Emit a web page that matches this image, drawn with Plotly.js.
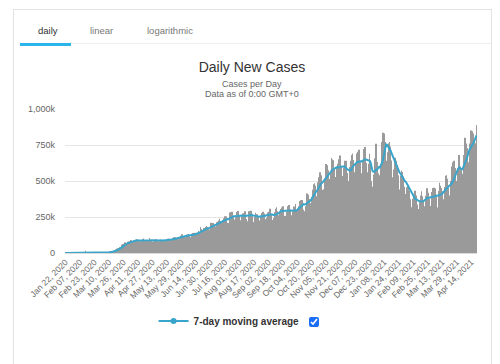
<!DOCTYPE html>
<html><head><meta charset="utf-8">
<script src="https://cdn.plot.ly/plotly-3.0.1.min.js"></script>
<style>
html,body{margin:0;padding:0;background:#fff;width:500px;height:364px;overflow:hidden;font-family:"Liberation Sans",Arial,sans-serif;}
#box{position:absolute;left:13px;top:9px;width:479px;height:420px;border:1px solid #e2e2e2;box-sizing:border-box;}
.tab{position:absolute;top:25px;font-size:9.5px;line-height:11px;color:#777;}
#chart{position:absolute;left:0;top:0;width:500px;height:364px;}
#cb{position:absolute;left:309px;top:317px;width:10px;height:10px;margin:0;accent-color:#1a6ef5;}
</style></head><body>
<div id="box"></div>
<div style="position:absolute;left:20px;top:43px;width:471px;height:1px;background:#eeeeee"></div>
<div class="tab" style="left:38px;color:#333">daily</div>
<div class="tab" style="left:90px">linear</div>
<div class="tab" style="left:147px">logarithmic</div>
<div style="position:absolute;left:20px;top:43px;width:51px;height:2.5px;background:#2bb5ea"></div>
<div id="chart"></div>
<input type="checkbox" id="cb" checked>
<script>
// Daily new cases, in thousands, by month (first month starts Jan 22, 2020)
const jan2020 = [0.1, 0.1, 0.3, 0.7, 0.8, 1.3, 1.5, 1.8, 2.0, 2.1];
const feb2020 = [2.6, 2.8, 3.2, 3.9, 3.7, 3.2, 3.4, 2.7, 3.0, 2.6, 2.0, 2.0, 15.2, 5.1, 2.6, 2.1, 2.0, 1.9, 1.8, 0.6, 0.9, 1.0, 0.6, 0.9, 1.0, 0.9, 1.2, 1.4, 1.8];
const mar2020 = [1.9, 2.2, 2.5, 2.3, 2.8, 3.9, 4.0, 3.6, 4.4, 4.8, 7.5, 9.5, 11.5, 10.9, 14.0, 15.6, 19.9, 26.5, 29.6, 32.9, 33.1, 40.5, 41.6, 56.9, 62.4, 64.9, 73.5, 72.1, 66.6, 64.3, 77.3];
const apr2020 = [80, 82, 90, 88, 80, 80, 86, 90, 92, 95, 86, 80, 78, 83, 90, 95, 100, 88, 82, 80, 84, 86, 90, 105, 90, 84, 76, 80, 82, 88];
const may2020 = [95.1, 84.0, 80.5, 79.8, 82.0, 93.0, 90.5, 92.5, 89.3, 82.4, 76.2, 87.3, 92.4, 98.1, 99.6, 97.2, 87.8, 89.9, 96.3, 102.6, 108.8, 109.1, 103.0, 101.2, 90.9, 95.5, 109.0, 119.8, 125.4, 130.2, 115.0];
const jun2020 = [110.9, 113.7, 123.5, 126.5, 128.9, 131.4, 117.4, 109.7, 120.1, 134.4, 139.0, 136.6, 140.6, 133.2, 123.0, 141.0, 152.7, 140.8, 180.5, 166.5, 160.4, 140.2, 174.1, 170.9, 181.0, 186.7, 180.2, 166.6, 163.4, 178.1];
const jul2020 = [210.4, 207.3, 209.2, 198.9, 184.8, 175.5, 213.3, 216.3, 226.0, 237.5, 222.7, 197.9, 213.6, 229.6, 241.3, 255.6, 253.4, 243.5, 209.9, 207.9, 240.6, 281.7, 283.6, 286.4, 257.7, 232.5, 210.0, 247.8, 284.4, 291.4, 291.8];
const aug2020 = [261.9, 226.6, 213.1, 254.8, 275.0, 276.9, 289.6, 259.8, 236.6, 220.9, 258.6, 290.6, 291.7, 293.7, 259.3, 214.9, 211.2, 254.1, 278.7, 268.6, 268.4, 254.7, 226.1, 218.6, 258.2, 278.5, 285.9, 274.8, 263.1, 234.6, 245.4];
const sep2020 = [263.4, 281.6, 286.0, 306.6, 265.9, 228.5, 224.0, 243.3, 282.3, 307.3, 318.2, 289.2, 255.9, 261.9, 290.1, 306.4, 316.5, 323.8, 297.0, 256.8, 259.3, 287.0, 301.5, 324.5, 333.0, 302.8, 261.5, 243.1, 287.7, 322.3];
const oct2020 = [323.3, 340.7, 300.8, 262.0, 300.9, 323.8, 361.6, 366.5, 367.9, 352.2, 300.6, 289.2, 325.5, 379.7, 412.4, 405.1, 375.4, 320.2, 344.8, 390.9, 439.1, 476.9, 484.7, 467.2, 394.2, 378.5, 491.7, 526.1, 560.1, 539.8, 497.2];
const nov2020 = [437.4, 441.9, 519.6, 574.2, 618.4, 610.0, 575.5, 482.8, 514.5, 550.0, 660.0, 650.0, 643.5, 586.0, 528.1, 516.5, 596.0, 620.3, 650.8, 677.6, 600.5, 520.6, 535.2, 594.6, 640.1, 590.0, 640.3, 555.6, 500.6, 488.1];
const dec2020 = [597.4, 640.1, 680.1, 690.9, 645.3, 536.6, 560.6, 611.7, 690.8, 703.1, 717.0, 630.0, 546.0, 553.5, 643.2, 722.5, 720.0, 736.0, 625.0, 531.9, 560.0, 620.0, 690.0, 640.0, 500.0, 460.0, 490.0, 545.3, 656.1, 758.0, 632.2];
const jan2021 = [552.5, 540.5, 474.3, 620.0, 770.0, 810.0, 835.0, 830.0, 770.0, 640.0, 610.0, 700.0, 760.0, 770.0, 740.0, 642.1, 525.3, 498.0, 580.5, 661.5, 640.8, 610.4, 540.3, 432.3, 441.8, 536.5, 572.5, 563.0, 530.6, 460.4, 384.1];
const feb2021 = [410.5, 456.5, 471.4, 457.8, 432.4, 373.6, 311.4, 317.0, 375.9, 407.0, 431.7, 398.5, 337.6, 279.6, 304.7, 351.6, 398.6, 428.4, 394.6, 357.7, 310.2, 323.8, 397.3, 450.1, 442.2, 417.7, 376.0, 302.6];
const mar2021 = [325.7, 422.8, 450.8, 452.8, 447.5, 394.1, 304.6, 315.3, 430.6, 488.1, 466.6, 451.4, 428.0, 356.7, 373.8, 458.5, 536.9, 540.2, 516.1, 455.6, 395.0, 399.1, 500.5, 600.0, 630.0, 640.0, 590.0, 500.0, 480.0, 590.0, 680.0];
const apr2021 = [680, 600, 575, 460, 550, 680, 800, 740, 760, 730, 630, 660, 760, 850, 845, 830, 790, 760, 760, 889];

const tickLabels = ["Jan 22, 2020","Feb 07, 2020","Feb 23, 2020","Mar 10, 2020","Mar 26, 2020","Apr 11, 2020","Apr 27, 2020","May 13, 2020","May 29, 2020","Jun 14, 2020","Jun 30, 2020","Jul 16, 2020","Aug 01, 2020","Aug 17, 2020","Sep 02, 2020","Sep 18, 2020","Oct 04, 2020","Oct 20, 2020","Nov 05, 2020","Nov 21, 2020","Dec 07, 2020","Dec 23, 2020","Jan 08, 2021","Jan 24, 2021","Feb 09, 2021","Feb 25, 2021","Mar 13, 2021","Mar 29, 2021","Apr 14, 2021"];
const yTickVals = [0, 250, 500, 750, 1000];
const yTickText = ["0", "250k", "500k", "750k", "1,000k"];

const daily = [].concat(jan2020, feb2020, mar2020, apr2020, may2020, jun2020, jul2020, aug2020, sep2020, oct2020, nov2020, dec2020, jan2021, feb2021, mar2021, apr2021);

// Category labels, one per day from Jan 22, 2020
const months = ["Jan","Feb","Mar","Apr","May","Jun","Jul","Aug","Sep","Oct","Nov","Dec"];
const start = Date.UTC(2020, 0, 22);
const dates = daily.map((v, i) => {
  const d = new Date(start + i * 86400000);
  return months[d.getUTCMonth()] + " " + String(d.getUTCDate()).padStart(2, "0") + ", " + d.getUTCFullYear();
});

// 7-day moving average of the daily values
const ma = daily.map((v, i) => {
  const s = daily.slice(Math.max(0, i - 6), i + 1);
  return s.reduce((a, b) => a + b, 0) / s.length;
});

const lineColor = "#3aa5cb";
const font = "Liberation Sans, Arial, sans-serif";

const data = [
  {type: "bar", x: dates, y: daily, marker: {color: "#9a9a9a", line: {width: 0}}, showlegend: false, hoverinfo: "x+y"},
  {type: "scatter", mode: "lines", x: dates, y: ma, line: {color: lineColor, width: 2}, showlegend: false, hoverinfo: "x+y"},
  {type: "scatter", mode: "lines+markers", x: [null], y: [null], name: "<b>7-day moving average</b>",
   line: {color: lineColor, width: 2}, marker: {color: lineColor, size: 6}}
];

const layout = {
  width: 500, height: 364,
  margin: {l: 65, r: 23, t: 109, b: 111},
  paper_bgcolor: "rgba(0,0,0,0)", plot_bgcolor: "rgba(0,0,0,0)",
  font: {family: font, color: "#666"},
  bargap: 0.35,
  title: {text: "Daily New Cases", font: {size: 14, color: "#333", family: font},
          xref: "container", x: 0.504, xanchor: "center", yref: "container", y: 0.816, yanchor: "middle"},
  annotations: [
    {text: "Cases per Day", xref: "paper", yref: "paper", x: 0.454, y: 1.174, xanchor: "center", yanchor: "middle", showarrow: false, font: {size: 9, color: "#666"}},
    {text: "Data as of 0:00 GMT+0", xref: "paper", yref: "paper", x: 0.454, y: 1.104, xanchor: "center", yanchor: "middle", showarrow: false, font: {size: 9, color: "#666"}}
  ],
  xaxis: {type: "category", tickmode: "array", tickvals: tickLabels, ticktext: tickLabels, tickangle: -45,
          tickfont: {size: 8.5, color: "#666"}, showgrid: false, showline: true, linecolor: "#dcdcdc", linewidth: 1,
          ticks: "", automargin: false, range: [-0.5, dates.length - 0.5]},
  yaxis: {range: [0, 1000], tickmode: "array", tickvals: yTickVals, ticktext: yTickText, tickfont: {size: 9, color: "#666"},
          gridcolor: "#e6e6e6", gridwidth: 1, zeroline: false, showline: false, ticks: "", ticklabelstandoff: 9, automargin: false},
  legend: {orientation: "h", x: 0.215, xanchor: "left", y: -0.472, yanchor: "middle", font: {size: 10, color: "#333"}, bgcolor: "rgba(0,0,0,0)"},
  hovermode: "closest"
};

Plotly.newPlot("chart", data, layout, {displayModeBar: false, responsive: false});
</script>
</body></html>
